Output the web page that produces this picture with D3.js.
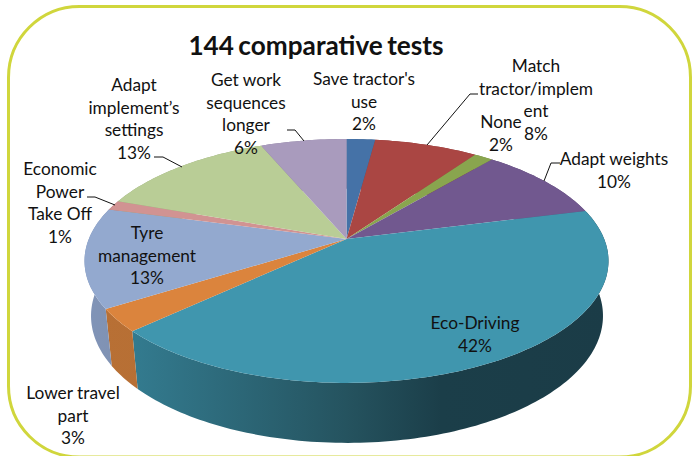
<!DOCTYPE html>
<html>
<head>
<meta charset="utf-8">
<script src="https://cdn.jsdelivr.net/npm/d3@7"></script>
<style>
  html, body { margin: 0; padding: 0; background: #fff; overflow: hidden; }
  text { font-family: Lato, "Open Sans", sans-serif; fill: #111; }
</style>
</head>
<body>
<div id="chart"></div>
<script>
var svgWidth = 696;
var svgHeight = 456;

// share of each slice (the printed labels are rounded)
var categories = ["Save tractor's use", "Match tractor/implement", "None", "Adapt weights", "Eco-Driving",
    "Lower travel part", "Tyre management", "Economic Power Take Off", "Adapt implement's settings", "Get work sequences longer"];
var values = [2.1, 7.6, 1.4, 9.9, 42, 3, 13.2, 1.3, 13.2, 6.3];
var percentLabels = ["2%", "8%", "2%", "10%", "42%", "3%", "13%", "1%", "13%", "6%"];
var colors = ["#4572a7", "#aa4643", "#89a54e", "#71588f", "#4096ae", "#db843d", "#93a9cf", "#d19392", "#b9cd96", "#a99bbd"];

// wrapped label text, as the picture breaks it
var labelLines = [
    ["Save tractor's", "use"],
    ["Match", "tractor/implem", "ent"],
    ["None"],
    ["Adapt weights"],
    ["Eco-Driving"],
    ["Lower travel", "part"],
    ["Tyre", "management"],
    ["Economic", "Power", "Take Off"],
    ["Adapt", "implement\u2019s", "settings"],
    ["Get work", "sequences", "longer"]
];
// label centre x and first line y
var labelX = [364, 536, 501, 614, 475, 73, 147, 60, 134, 246];
var labelY = [79, 66, 122, 159, 323, 393, 233, 169, 85, 80];

// leader lines, from the label to the rim
var leaders = [
    [[478, 94], [470, 94], [427, 145]],
    [[560, 163], [551, 163], [544, 181]],
    [[287, 130], [295, 130], [304, 141]],
    [[154, 157], [163, 157], [182, 167]],
    [[87, 197], [95, 197], [115, 205]]
];

var svg = d3.select("#chart")
    .append("svg")
    .attr("width", svgWidth)
    .attr("height", svgHeight)
    .style("display", "block");

// bottom edge of the frame is cut by the picture, only a pale row is left
svg.append("rect")
    .attr("x", 8.5)
    .attr("y", 6.5)
    .attr("width", 682)
    .attr("height", 450.5)
    .attr("rx", 71)
    .attr("ry", 71)
    .attr("fill", "#fff")
    .attr("stroke", "#d0d63c")
    .attr("stroke-width", 3);

// the tilted pie is seen in perspective, so the centre sits above the middle of the ellipse
var tilt = 0.18;
function rim(plane, angle) {
    var u = Math.sin(angle);
    var v = -Math.cos(angle);
    var w = 1 - tilt * v;
    return [plane.cx + plane.a * u / w, plane.cy + plane.b * v / w];
}
var topPlane = { cx: 346.5, cy: 239, a: 257.7, b: 118 };
var bottomPlane = { cx: 347, cy: 293, a: 251.8, b: 122.9 };

var arcs = d3.pie().sort(null)(values);

function arcPoints(plane, d) {
    var n = Math.max(2, Math.ceil((d.endAngle - d.startAngle) / 0.02));
    return d3.range(n + 1).map(function(i) {
        return rim(plane, d.startAngle + (d.endAngle - d.startAngle) * i / n);
    });
}

var line = d3.line();
var defs = svg.append("defs");

function wallGradient(id, stops) {
    var g = defs.append("linearGradient")
        .attr("id", id)
        .attr("gradientUnits", "userSpaceOnUse")
        .attr("x1", 85).attr("x2", 609)
        .attr("y1", 0).attr("y2", 0);
    stops.forEach(function(s) {
        g.append("stop").attr("offset", s[0]).attr("stop-color", s[1]);
    });
}
wallGradient("wall4", [[0, "#37808f"], [0.1, "#337a8e"], [0.5, "#25535f"], [0.68, "#1b3e49"], [1, "#1b3c47"]]);
wallGradient("wall5", [[0, "#b87035"], [1, "#b06a30"]]);
wallGradient("wall6", [[0, "#8094b8"], [0.05, "#8092b3"], [1, "#8092b3"]]);

// side walls first, the top surface covers whatever is at the back
svg.append("g").selectAll("path")
    .data(arcs)
    .enter()
    .append("path")
    .attr("d", function(d) {
        return line(arcPoints(topPlane, d).concat(arcPoints(bottomPlane, d).reverse())) + "Z";
    })
    .attr("fill", function(d, i) {
        return (i >= 4 && i <= 6) ? "url(#wall" + i + ")" : d3.color(colors[i]).darker(0.6);
    });

svg.append("g").selectAll("path")
    .data(arcs)
    .enter()
    .append("path")
    .attr("d", function(d) {
        var c = [topPlane.cx, topPlane.cy];
        return line([c].concat(arcPoints(topPlane, d))) + "Z";
    })
    .attr("fill", function(d, i) { return colors[i]; });

svg.append("g").selectAll("path")
    .data(leaders)
    .enter()
    .append("path")
    .attr("d", function(d) { return line(d); })
    .attr("fill", "none")
    .attr("stroke", "#111")
    .attr("stroke-width", 1);

svg.append("text")
    .attr("x", 316)
    .attr("y", 54.5)
    .attr("text-anchor", "middle")
    .style("font-size", "26.2px")
    .style("font-weight", "700")
    .style("word-spacing", "-2px")
    .text("144 comparative tests");

var lineGap = 22.5;
var labels = svg.append("g").selectAll("text")
    .data(categories)
    .enter()
    .append("text")
    .attr("text-anchor", "middle")
    .style("font-size", "17.3px");

labels.each(function(d, i) {
    var rows = labelLines[i].concat(percentLabels[i]);
    d3.select(this).selectAll("tspan")
        .data(rows)
        .enter()
        .append("tspan")
        .attr("x", labelX[i])
        .attr("y", function(r, j) { return labelY[i] + j * lineGap + 6; })
        .text(function(r) { return r; });
});
</script>
</body>
</html>
